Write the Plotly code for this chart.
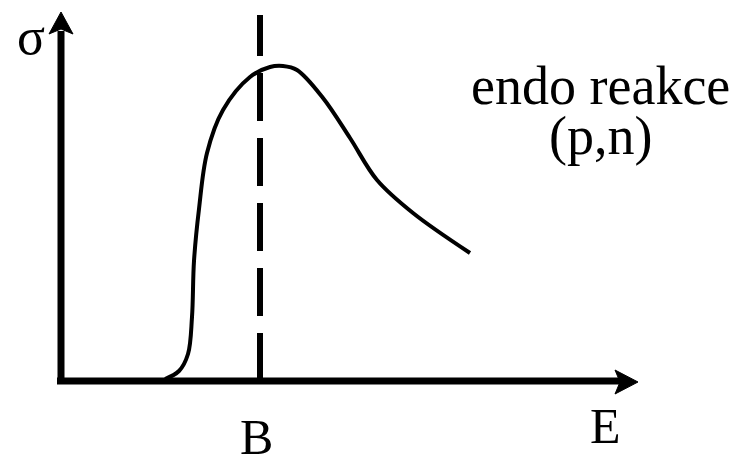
import plotly.graph_objects as go

# Schematic data (E, sigma) in drawing units (origin at axes crossing)
E = [104, 118, 127, 131, 133, 138, 146, 162, 189, 209, 222, 236, 262, 289, 316, 352, 409]
sigma = [2, 10, 27, 64, 120, 172, 228, 271, 304, 314, 315, 311, 283, 243, 201, 168, 128]
B_value = 199
axis_labels = {"y": "σ", "x": "E", "b": "B"}
reaction_text = ["endo reakce", "(p,n)"]

X0, Y0 = 61, 381  # pixel of origin
W, H = 735, 457

fig = go.Figure()

black = "black"
# axes shafts
fig.add_trace(go.Scatter(x=[-4, 560], y=[0, 0], mode="lines",
                         line=dict(color=black, width=7), hoverinfo="skip"))
fig.add_trace(go.Scatter(x=[0, 0], y=[-3, 350], mode="lines",
                         line=dict(color=black, width=7), hoverinfo="skip"))
# arrowheads (notched)
fig.add_trace(go.Scatter(x=[577, 554, 559, 554, 577], y=[-1, 11, -1, -13, -1],
                         mode="lines", fill="toself", fillcolor=black,
                         line=dict(color=black, width=1), hoverinfo="skip"))
fig.add_trace(go.Scatter(x=[0, -12, 0, 12, 0], y=[369, 347, 352, 347, 369],
                         mode="lines", fill="toself", fillcolor=black,
                         line=dict(color=black, width=1), hoverinfo="skip"))
# dashed B line
fig.add_trace(go.Scatter(x=[B_value, B_value], y=[0, 366], mode="lines",
                         line=dict(color=black, width=6, dash="48px,17px"),
                         hoverinfo="skip"))
# cross-section curve
fig.add_trace(go.Scatter(x=E, y=sigma, mode="lines",
                         line=dict(color=black, width=4, shape="spline", smoothing=1.0),
                         hoverinfo="skip"))

font = dict(family="Liberation Serif, Times New Roman, serif", color=black)
ann = []
ann.append(dict(x=31 - X0, y=Y0 - 36, text=axis_labels["y"], font=dict(size=52, **font)))
ann.append(dict(x=605 - X0, y=Y0 - 426, text=axis_labels["x"], font=dict(size=50, **font)))
ann.append(dict(x=256 - X0, y=Y0 - 437, text=axis_labels["b"], font=dict(size=50, **font), height=38))
ann.append(dict(x=600 - X0, y=Y0 - 86, text=reaction_text[0], font=dict(size=54, **font)))
ann.append(dict(x=600 - X0, y=Y0 - 136, text=reaction_text[1], font=dict(size=54, **font)))
for a in ann:
    a.update(xref="x", yref="y", showarrow=False, xanchor="center", yanchor="middle")

fig.update_layout(
    width=W, height=H,
    margin=dict(l=0, r=0, t=0, b=0),
    paper_bgcolor="white", plot_bgcolor="white",
    showlegend=False,
    annotations=ann,
    xaxis=dict(range=[-X0, W - X0], visible=False, fixedrange=True),
    yaxis=dict(range=[Y0 - H, Y0], visible=False, fixedrange=True),
)

fig.write_html("out.html", config={"displayModeBar": False},
               post_script=["document.body.style.margin='0px';document.body.style.overflow='hidden';"])
